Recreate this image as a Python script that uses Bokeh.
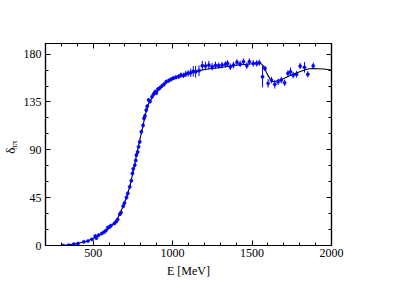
from bokeh.plotting import figure
from bokeh.layouts import row
from bokeh.models import FixedTicker, LinearAxis, Range1d, ColumnDataSource
from bokeh.core.properties import value
from bokeh.embed import file_html
from bokeh.resources import INLINE
import math

# ---- data ----
E_pts = [312, 347, 378, 405, 441, 467, 492, 513, 520, 534, 554, 568, 580, 592, 604, 612,
         633, 645, 654, 668, 675, 689, 697, 710, 718, 730, 740, 747, 752, 762, 768, 772,
         780, 786, 793, 803, 814, 820, 826, 834, 840, 849, 858, 870, 880, 890, 898, 907,
         918, 932, 945, 959, 975, 990, 1005, 1021, 1037, 1052, 1068, 1083, 1098, 1114,
         1130, 1145, 1166, 1187, 1207, 1228, 1249, 1270, 1290, 1311, 1332, 1346, 1363,
         1383, 1405, 1425, 1446, 1467, 1483, 1508, 1529, 1545, 1566, 1581, 1601, 1622,
         1643, 1664, 1684, 1705, 1726, 1742, 1759, 1780, 1803, 1830, 1851, 1885]
delta_pts = [0.0, 0.3, 1.3, 1.9, 3.5, 4.2, 5.8, 8.8, 7.0, 9.7, 11.3, 12.5, 14.0, 16.9, 17.5, 18.8,
             20.7, 22.5, 24.5, 29.5, 31.0, 37.0, 40.0, 45.2, 49.0, 55.2, 61.0, 67.8, 72.0, 75.6, 80.0, 85.0,
             88.0, 92.8, 97.5, 107.0, 113.0, 119.6, 122.0, 127.4, 131.0, 136.8, 135.5, 139.9, 142.5, 144.6, 143.5, 146.9,
             148.0, 150.0, 151.5, 154.0, 155.0, 156.3, 157.5, 158.2, 158.8, 160.3, 160.0, 161.3, 162.0, 162.5,
             163.8, 163.4, 164.4, 169.1, 168.8, 169.7, 168.1, 169.4, 169.1, 169.7, 170.4, 171.3, 168.1,
             169.7, 172.3, 170.7, 172.9, 169.1, 172.9, 171.3, 171.3, 171.9, 158.7, 166.6, 152.5, 155.6,
             151.6, 154.0, 155.6, 153.0, 161.9, 163.4, 160.3, 161.0, 168.8, 167.6, 161.0, 169.0]
err_pts = [1.0, 1.0, 1.0, 1.0, 1.0, 1.0, 1.0, 1.5, 1.5, 1.5, 1.5, 1.5, 1.5, 1.5, 1.5, 1.5,
           1.5, 1.5, 1.5, 1.5, 1.5, 2.0, 2.0, 2.0, 2.0, 2.0, 2.0, 2.0, 2.0, 2.0, 2.0, 2.0,
           2.0, 2.0, 2.0, 2.0, 2.0, 2.0, 2.0, 2.0, 2.0, 2.0, 2.0, 2.0, 2.0, 2.0, 2.0, 2.0,
           2.0, 2.0, 2.0, 2.0, 2.0, 2.0, 2.0, 2.0, 2.0, 2.5, 2.5, 3.0, 3.0, 4.0,
           5.0, 5.5, 5.0, 4.5, 4.0, 4.0, 3.5, 3.5, 3.0, 3.0, 3.0, 3.0, 3.0,
           3.0, 3.0, 3.0, 3.0, 3.0, 3.0, 3.0, 3.0, 3.0, 10.0, 2.5, 4.0, 3.0,
           4.0, 3.0, 3.0, 3.0, 3.0, 4.0, 3.0, 3.0, 3.0, 5.0, 3.0, 3.0]

curve_E = [280, 320, 360, 400, 450, 500, 550, 600, 650, 700, 730, 760, 775, 790, 810, 830,
           850, 880, 920, 960, 1000, 1050, 1100, 1150, 1200, 1300, 1400, 1500, 1550, 1570,
           1600, 1625, 1650, 1700, 1750, 1800, 1850, 1880, 1950, 2000]
curve_delta = [0.0, 0.2, 0.8, 1.8, 3.6, 6.5, 11.0, 16.0, 24.0, 41.0, 55.0, 75.0, 87.0, 97.0, 110.0, 124.0,
               134.0, 141.0, 148.0, 153.0, 156.5, 159.5, 162.0, 164.0, 165.5, 167.5, 169.5, 171.0, 172.0, 169.0,
               160.0, 154.0, 154.5, 157.0, 160.5, 163.5, 166.0, 166.5, 166.0, 165.0]

x_major = [500, 1000, 1500, 2000]
x_minor = [300, 400, 600, 700, 800, 900, 1100, 1200, 1300, 1400, 1600, 1700, 1800, 1900]
y_major = [0, 45, 90, 135, 180]
y_minor = [15, 30, 60, 75, 105, 120, 150, 165]

x_label = "E [MeV]"
y_label = "δ"
y_label_sub = "ππ"

FONT = "Liberation Serif"
BLUE = "#0000ff"

src = ColumnDataSource(dict(
    E=E_pts, d=delta_pts,
    lo=[d - e for d, e in zip(delta_pts, err_pts)],
    hi=[d + e for d, e in zip(delta_pts, err_pts)],
))

# ---- narrow strip holding the rotated y-axis title (delta with subscript) ----
lab = figure(width=20, height=280, output_backend="svg", toolbar_location=None, title=None,
             x_range=Range1d(0, 20), y_range=Range1d(0, 280),
             x_axis_location=None, y_axis_location=None,
             min_border_left=0, min_border_right=0, min_border_top=0, min_border_bottom=0)
lab.grid.visible = False
lab.outline_line_color = None
lab.background_fill_color = "white"
lab.border_fill_color = "white"
lab.text(x=[10], y=[131.5], text=[y_label], angle=math.pi / 2, text_font=value(FONT),
         text_font_size="13px", text_align="center", text_baseline="middle", text_color="black")
lab.text(x=[13.5], y=[139], text=[y_label_sub], angle=math.pi / 2, text_font=value(FONT),
         text_font_size="9px", text_align="center", text_baseline="middle", text_color="black")

# ---- main plot ----
p = figure(width=368, height=280, output_backend="svg", toolbar_location=None, title=None,
           x_range=Range1d(200, 2000), y_range=Range1d(0, 190),
           min_border_left=21, min_border_right=57, min_border_top=43, min_border_bottom=35)
p.grid.visible = False
p.outline_line_color = "black"
p.outline_line_width = 1.2
p.background_fill_color = "white"
p.border_fill_color = "white"

xt = FixedTicker(ticks=x_major, minor_ticks=x_minor)
yt = FixedTicker(ticks=y_major, minor_ticks=y_minor)


def style_axis(ax, show_labels, ticks):
    ax.major_tick_in = 5
    ax.major_tick_out = 0
    ax.minor_tick_in = 3
    ax.minor_tick_out = 0
    ax.axis_line_color = "black"
    ax.axis_line_width = 1.2
    ax.major_tick_line_color = "black"
    ax.minor_tick_line_color = "black"
    ax.major_label_text_font = FONT
    ax.major_label_text_color = "black"
    ax.major_label_text_font_size = "12px"
    ax.axis_label_text_font = FONT
    ax.axis_label_text_font_style = "normal"
    ax.axis_label_text_color = "black"
    if not show_labels:
        ax.major_label_overrides = {t: "" for t in ticks}
        ax.major_label_standoff = 0


p.xaxis.ticker = xt
p.yaxis.ticker = yt
style_axis(p.xaxis[0], True, x_major)
style_axis(p.yaxis[0], True, y_major)
p.xaxis.major_label_standoff = 3
p.yaxis.major_label_standoff = 4

p.xaxis.axis_label = x_label
p.xaxis.axis_label_text_font_size = "12px"
p.xaxis.axis_label_standoff = 4

top = LinearAxis(ticker=xt)
right = LinearAxis(ticker=yt)
style_axis(top, False, x_major)
style_axis(right, False, y_major)
p.add_layout(top, "above")
p.add_layout(right, "right")

# curve
p.line(curve_E, curve_delta, line_color="black", line_width=1.1)

# data with error bars
p.segment(x0="E", y0="lo", x1="E", y1="hi", source=src, line_color=BLUE, line_width=1)
p.scatter(x="E", y="d", source=src, marker="circle", size=3.2, fill_color=BLUE, line_color=BLUE,
          line_width=0.5)

layout = row(lab, p)
open("out.html", "w").write(file_html(layout, INLINE))
